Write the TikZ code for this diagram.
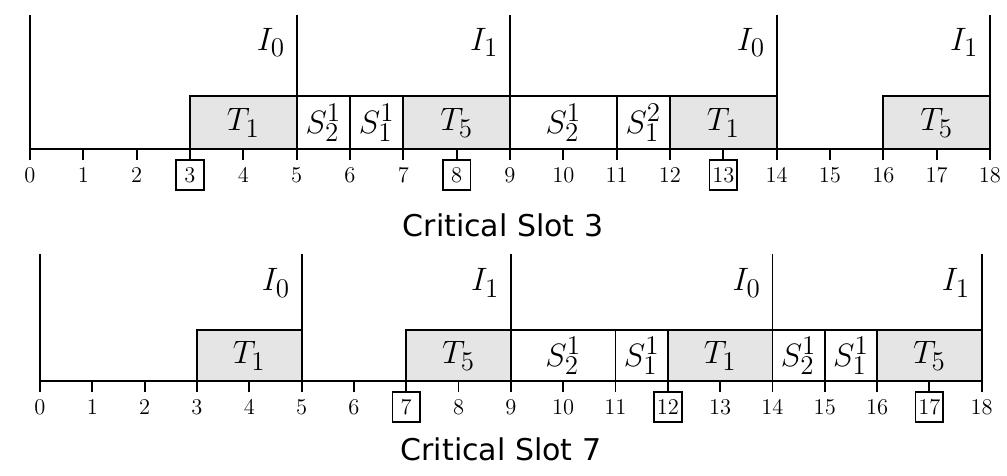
\documentclass[tikz,border=0pt]{standalone}
\usepackage{fontspec}
\newfontfamily\capfont{DejaVu Sans}
\tikzset{
  axis/.style={line width=1pt},
  job/.style={draw, line width=1pt, fill=gray!20},
  spare/.style={draw, line width=1pt, fill=white},
  joblbl/.style={font=\fontsize{19}{22}\selectfont, inner sep=1pt},
  ticklbl/.style={font=\fontsize{12}{14}\selectfont, inner sep=0pt},
  crit/.style={ticklbl, draw, line width=0.9pt, minimum width=0.52cm, minimum height=0.56cm},
  caption/.style={font=\capfont\fontsize{16}{19}\selectfont}
}

\begin{document}
\begin{tikzpicture}
\useasboundingbox (-0.5625,-6.131) rectangle (18.32,2.794);

% Critical slot 3
\begin{scope}
\foreach \a/\b/\t/\s in {3/5/T_1/job, 5/6/S_2^1/spare, 6/7/S_1^1/spare, 7/9/T_5/job,
                         9/11/S_2^1/spare, 11/12/S_1^2/spare, 12/14/T_1/job, 16/18/T_5/job} {
    \draw[\s] (\a,0) rectangle (\b,0.99);
    \node[joblbl] (ja\a) at ({(\a+\b)/2},0.49) {$\t$};
}
\draw[axis] (0,0) -- (18,0);
\foreach \x in {0,5,9,14,18} {
    \draw[axis] (\x,0) -- (\x,2.51);
}
\foreach \x in {0,...,18} {
    \draw[axis] (\x,0) -- (\x,-0.2);
}
\foreach \x in {0,1,2,4,5,6,7,9,10,11,12,14,15,16,17,18} {
    \node[ticklbl] (ta\x) at (\x,-0.49) {\x};
}
\foreach \x in {3,8,13} {
    \node[crit] (ta\x) at (\x,-0.49) {\x};
}
\node[joblbl, anchor=east, inner sep=6pt] (ia5) at (5,2.0) {$I_0$};
\node[joblbl, anchor=east, inner sep=6pt] (ia9) at (9,2.0) {$I_1$};
\node[joblbl, anchor=east, inner sep=6pt] (ia14) at (14,2.0) {$I_0$};
\node[joblbl, anchor=east, inner sep=6pt] (ia18) at (18,2.0) {$I_1$};
\node[caption] (capa) at (8.87,-1.43) {Critical Slot 3};
\end{scope}

% Critical slot 7
\begin{scope}[shift={(0.1875,-4.35)}, xscale=0.981]
\foreach \a/\b/\t/\s in {3/5/T_1/job, 7/9/T_5/job, 9/11/S_2^1/spare, 11/12/S_1^1/spare,
                         12/14/T_1/job, 14/15/S_2^1/spare, 15/16/S_1^1/spare, 16/18/T_5/job} {
    \draw[\s] (\a,0) rectangle (\b,0.95);
    \node[joblbl] (jb\a) at ({(\a+\b)/2},0.47) {$\t$};
}
\draw[axis] (0,0) -- (18,0);
\foreach \x in {0,5,9,14,18} {
    \draw[axis] (\x,0) -- (\x,2.38);
}
\foreach \x in {0,...,18} {
    \draw[axis] (\x,0) -- (\x,-0.2);
}
\foreach \x in {0,1,2,3,4,5,6,8,9,10,11,13,14,15,16,18} {
    \node[ticklbl] (tb\x) at (\x,-0.49) {\x};
}
\foreach \x in {7,12,17} {
    \node[crit] (tb\x) at (\x,-0.49) {\x};
}
\node[joblbl, anchor=east, inner sep=6pt] (ib5) at (5,1.84) {$I_0$};
\node[joblbl, anchor=east, inner sep=6pt] (ib9) at (9,1.84) {$I_1$};
\node[joblbl, anchor=east, inner sep=6pt] (ib14) at (14,1.84) {$I_0$};
\node[joblbl, anchor=east, inner sep=6pt] (ib18) at (18,1.84) {$I_1$};
\node[caption] (capb) at (8.81,-1.29) {Critical Slot 7};
\end{scope}
\end{tikzpicture}
\end{document}
